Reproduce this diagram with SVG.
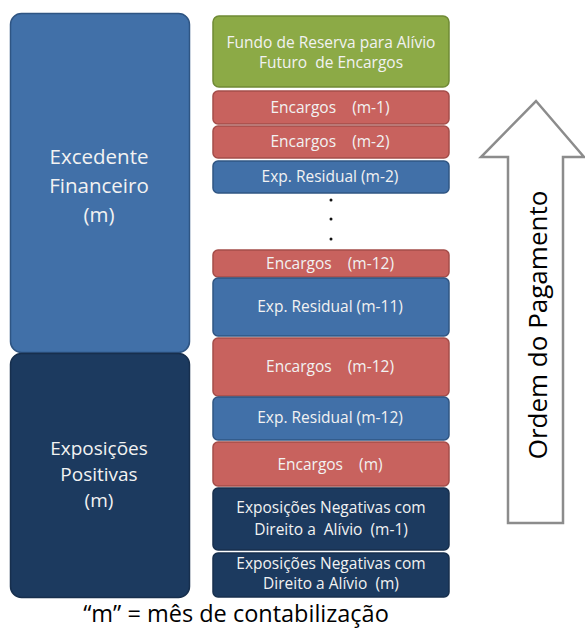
<svg xmlns="http://www.w3.org/2000/svg" width="585" height="631" viewBox="0 0 585 631">
<style>
text{font-family:"Open Sans","Liberation Sans",sans-serif;fill:#F2F2F2;text-anchor:middle;white-space:pre}
.big{font-size:20.5px}
.big2{font-size:19px}
.sm{font-size:15.5px}
.blue{fill:#4170A8;stroke:#2F5583;stroke-width:1.5}
.navy{fill:#1C3A5F;stroke:#172F4D;stroke-width:1.5}
.red{fill:#C8625E;stroke:#A44D49;stroke-width:1.5}
.green{fill:#8CAA46;stroke:#6F8A35;stroke-width:1.5}
.dark{fill:#111}
</style>
<rect width="585" height="631" fill="#fff"/>
<g id="excedente">
<rect class="blue" x="10.5" y="13.5" width="179" height="339" rx="11"/>
<text class="big" x="99" y="164">Excedente</text>
<text class="big" x="99" y="193">Financeiro</text>
<text class="big" x="99" y="222">(m)</text>
</g>
<g id="exposicoes-positivas">
<rect class="navy" x="10.5" y="353.5" width="179" height="244" rx="11"/>
<text class="big2" x="99" y="455">Exposições</text>
<text class="big2" x="99" y="481">Positivas</text>
<text class="big2" x="99" y="507">(m)</text>
</g>
<g id="fundo">
<rect class="green" x="213" y="16" width="236" height="71" rx="6"/>
<text class="sm" x="331" y="48">Fundo de Reserva para Alívio</text>
<text class="sm" x="331" y="68">Futuro  de Encargos</text>
</g>
<g id="enc-m1">
<rect class="red" x="213" y="91" width="236" height="33" rx="5"/>
<text class="sm" x="330" y="113">Encargos    (m-1)</text>
</g>
<g id="enc-m2">
<rect class="red" x="213" y="126" width="236" height="32" rx="5"/>
<text class="sm" x="330" y="147">Encargos    (m-2)</text>
</g>
<g id="res-m2">
<rect class="blue" x="213" y="161" width="236" height="32" rx="5"/>
<text class="sm" x="330" y="182">Exp. Residual (m-2)</text>
</g>
<g id="dots">
<circle class="dark" cx="331" cy="200" r="1.5"/>
<circle class="dark" cx="331" cy="219" r="1.5"/>
<circle class="dark" cx="331" cy="239" r="1.5"/>
</g>
<g id="enc-m12a">
<rect class="red" x="213" y="250" width="236" height="27" rx="5"/>
<text class="sm" x="330" y="269">Encargos    (m-12)</text>
</g>
<g id="res-m11">
<rect class="blue" x="213" y="278" width="236" height="58" rx="5"/>
<text class="sm" x="330" y="312">Exp. Residual (m-11)</text>
</g>
<g id="enc-m12b">
<rect class="red" x="213" y="338" width="236" height="58" rx="5"/>
<text class="sm" x="330" y="372">Encargos    (m-12)</text>
</g>
<g id="res-m12">
<rect class="blue" x="213" y="397" width="236" height="43" rx="5"/>
<text class="sm" x="330" y="423">Exp. Residual (m-12)</text>
</g>
<g id="enc-m">
<rect class="red" x="213" y="442" width="236" height="44" rx="5"/>
<text class="sm" x="330" y="470">Encargos    (m)</text>
</g>
<g id="neg-m1">
<rect class="navy" x="213" y="488" width="236" height="62" rx="5"/>
<text class="sm" x="331" y="513">Exposições Negativas com</text>
<text class="sm" x="331" y="535">Direito a  Alívio  (m-1)</text>
</g>
<g id="neg-m">
<rect class="navy" x="213" y="553" width="236" height="44" rx="5"/>
<text class="sm" x="331" y="569">Exposições Negativas com</text>
<text class="sm" x="331" y="589">Direito a Alívio  (m)</text>
</g>
<g id="ordem">
<path d="M536,101 L584,157 L563,157 L563,523 L508,523 L508,157 L481,157 Z" fill="#fff" stroke="#8C8C8C" stroke-width="2.5" stroke-linejoin="miter"/>
<text transform="translate(547,325) rotate(-90)" style="font-size:26px;fill:#000">Ordem do Pagamento</text>
</g>
<g id="connectors"/>
<text x="236" y="622" style="font-size:23.5px;fill:#000">“m” = mês de contabilização</text>
</svg>
